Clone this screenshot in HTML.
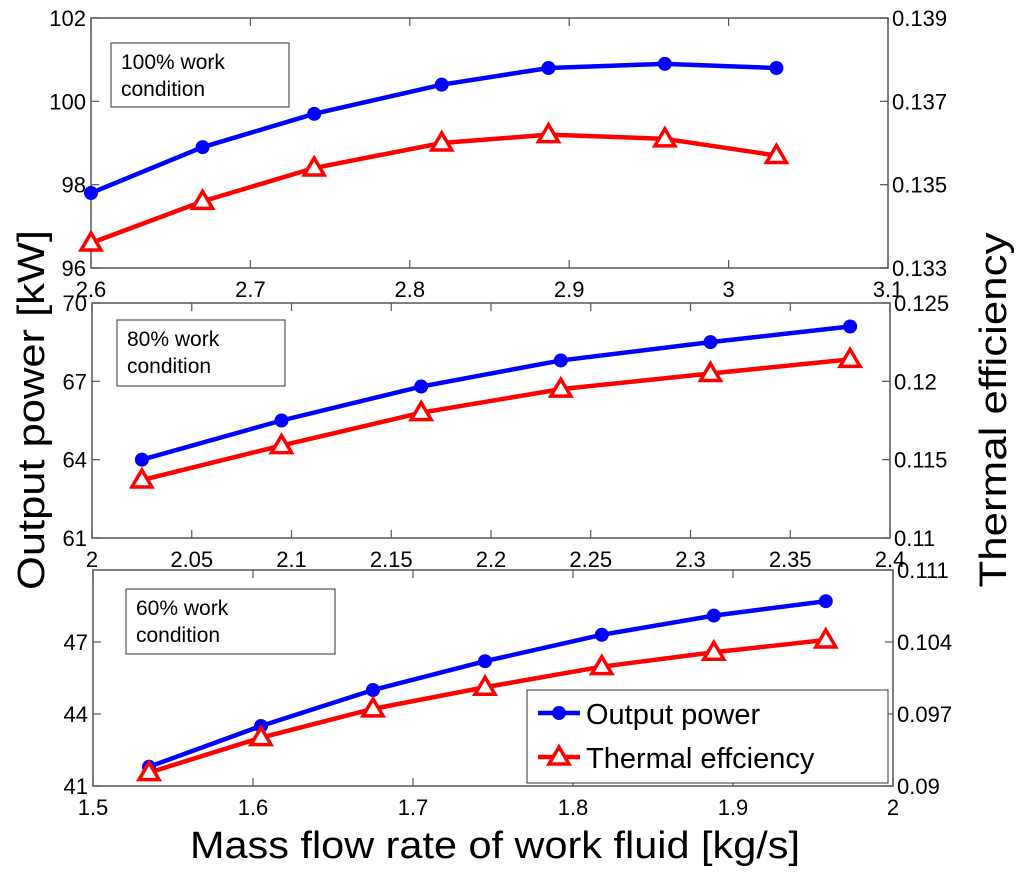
<!DOCTYPE html>
<html><head><meta charset="utf-8"><style>
html,body{margin:0;padding:0;background:#fff;}
svg text{font-family:"Liberation Sans",Arial,sans-serif;fill:#000;}
</style></head><body>
<svg id="c" width="1024" height="873" viewBox="0 0 1024 873" xmlns="http://www.w3.org/2000/svg"></svg>
<script>
// Panel 1 (100%)
const p1X = [2.6, 2.67, 2.74, 2.82, 2.887, 2.96, 3.03];
const p1Power = [97.8, 98.9, 99.7, 100.4, 100.8, 100.9, 100.8];
const p1Eff = [0.1336, 0.1346, 0.1354, 0.1360, 0.1362, 0.1361, 0.1357];
const p1XTicks = [2.6, 2.7, 2.8, 2.9, 3, 3.1];
const p1LTicks = [96, 98, 100, 102];
const p1RTicks = [0.133, 0.135, 0.137, 0.139];
// Panel 2 (80%)
const p2X = [2.025, 2.095, 2.165, 2.235, 2.31, 2.38];
const p2Power = [64.0, 65.5, 66.8, 67.8, 68.5, 69.1];
const p2Eff = [0.1137, 0.1159, 0.1180, 0.1195, 0.1205, 0.1214];
const p2XTicks = [2, 2.05, 2.1, 2.15, 2.2, 2.25, 2.3, 2.35, 2.4];
const p2LTicks = [61, 64, 67, 70];
const p2RTicks = [0.11, 0.115, 0.12, 0.125];
// Panel 3 (60%)
const p3X = [1.535, 1.605, 1.675, 1.745, 1.818, 1.888, 1.958];
const p3Power = [41.8, 43.5, 45.0, 46.2, 47.3, 48.1, 48.7];
const p3Eff = [0.0913, 0.0947, 0.0975, 0.0996, 0.1016, 0.1030, 0.1042];
const p3XTicks = [1.5, 1.6, 1.7, 1.8, 1.9, 2];
const p3LTicks = [41, 44, 47];
const p3RTicks = [0.09, 0.097, 0.104, 0.111];

const NS = "http://www.w3.org/2000/svg";
const svg = document.getElementById('c');
function mk(tag, attrs, parent){
  const e = document.createElementNS(NS, tag);
  for (const k in attrs) e.setAttribute(k, attrs[k]);
  (parent||svg).appendChild(e);
  return e;
}
function fmt(v){ return String(+v.toFixed(4)); }

const panels = [
  {id:'p100', x:p1X, pw:p1Power, ef:p1Eff, xt:p1XTicks, lt:p1LTicks, rt:p1RTicks,
   px:[91,888], py:[18,268], xd:[2.6,3.1], ld:[96,102], rd:[0.133,0.139],
   label:['100% work','condition'], box:[111,43,178,64]},
  {id:'p80', x:p2X, pw:p2Power, ef:p2Eff, xt:p2XTicks, lt:p2LTicks, rt:p2RTicks,
   px:[92,890], py:[303,538], xd:[2,2.4], ld:[61,70], rd:[0.11,0.125],
   label:['80% work','condition'], box:[117,320,168,66]},
  {id:'p60', x:p3X, pw:p3Power, ef:p3Eff, xt:p3XTicks, lt:p3LTicks, rt:p3RTicks,
   px:[93,893], py:[570,786], xd:[1.5,2], ld:[41,50], rd:[0.09,0.111],
   label:['60% work','condition'], box:[126,589,209,65]}
];

panels.forEach(p=>{
  const g = mk('g', {});
  
  
  const sx = v => p.px[0] + (v - p.xd[0])/(p.xd[1]-p.xd[0])*(p.px[1]-p.px[0]);
  const sl = v => p.py[1] - (v - p.ld[0])/(p.ld[1]-p.ld[0])*(p.py[1]-p.py[0]);
  const sr = v => p.py[1] - (v - p.rd[0])/(p.rd[1]-p.rd[0])*(p.py[1]-p.py[0]);
  const fr = mk('rect', {x:p.px[0], y:p.py[0], width:p.px[1]-p.px[0], height:p.py[1]-p.py[0], fill:'#fff', stroke:'#555', 'stroke-width':1.5}, g);
  
  
  p.xt.forEach(t=>{
    const x = sx(t);
    mk('line', {x1:x, x2:x, y1:p.py[1], y2:p.py[1]-8, stroke:'#555','stroke-width':1.2}, g);
    mk('line', {x1:x, x2:x, y1:p.py[0], y2:p.py[0]+8, stroke:'#555','stroke-width':1.2}, g);
    const tx = mk('text', {x:x, y:p.py[1]+29, 'font-size':22, 'text-anchor':'middle'}, g);
    tx.textContent = fmt(t);
    
    
  });
  p.lt.forEach(t=>{
    const y = sl(t);
    mk('line', {x1:p.px[0], x2:p.px[0]+8, y1:y, y2:y, stroke:'#555','stroke-width':1.2}, g);
    const tx = mk('text', {x:p.px[0]-5, y:y+8, 'font-size':22, 'text-anchor':'end'}, g);
    tx.textContent = fmt(t);
    
    
  });
  p.rt.forEach(t=>{
    const y = sr(t);
    mk('line', {x1:p.px[1], x2:p.px[1]-8, y1:y, y2:y, stroke:'#555','stroke-width':1.2}, g);
    const tx = mk('text', {x:p.px[1]+4, y:y+8, 'font-size':22}, g);
    tx.textContent = fmt(t);
    
    
  });
  const b = p.box;
  const br = mk('rect', {x:b[0], y:b[1], width:b[2], height:b[3], fill:'#fff', stroke:'#333','stroke-width':1}, g);
  
  
  p.label.forEach((s,i)=>{
    const tx = mk('text', {x:b[0]+10, y:b[1]+26+i*27, 'font-size':21}, g);
    tx.textContent = s;
    
    
  });
  const bp = p.x.map((v,i)=>sx(v)+','+sl(p.pw[i])).join(' ');
  const bl = mk('polyline', {points:bp, fill:'none', stroke:'#0000ff','stroke-width':4.5}, g);
  
  
  const rp = p.x.map((v,i)=>sx(v)+','+sr(p.ef[i])).join(' ');
  const rl = mk('polyline', {points:rp, fill:'none', stroke:'#ff0000','stroke-width':4.5}, g);
  
  
  p.x.forEach((v,i)=>{
    const c = mk('circle', {cx:sx(v), cy:sl(p.pw[i]), r:7, fill:'#0000ff'}, g);
    
    
  });
  p.x.forEach((v,i)=>{
    const x = sx(v), y = sr(p.ef[i]);
    const t = mk('polygon', {points:`${x},${y-10} ${x-10},${y+7} ${x+10},${y+7}`, fill:'#fff', stroke:'#ff0000','stroke-width':3.5}, g);
    
    
  });
});

// legend
const lg = mk('g', {});


mk('rect', {x:527, y:690, width:361, height:93, fill:'#fff', stroke:'#333','stroke-width':1}, lg);
mk('line', {x1:538, x2:580, y1:713, y2:713, stroke:'#0000ff','stroke-width':4.5}, lg);
mk('circle', {cx:559, cy:713, r:7, fill:'#0000ff'}, lg);
mk('line', {x1:538, x2:580, y1:757, y2:757, stroke:'#ff0000','stroke-width':4.5}, lg);
mk('polygon', {points:'559,747 549,764 569,764', fill:'#fff', stroke:'#ff0000','stroke-width':3.5}, lg);
const l1 = mk('text', {x:586, y:724, 'font-size':29}, lg);
l1.textContent = 'Output power';


const l2 = mk('text', {x:586, y:768, 'font-size':29}, lg);
l2.textContent = 'Thermal effciency';



const yt = mk('text', {x:0, y:0, 'font-size':38, 'text-anchor':'middle', textLength:360, lengthAdjust:'spacingAndGlyphs', transform:'translate(44,410) rotate(-90)'});
yt.textContent = 'Output power [kW]';


const yr = mk('text', {x:0, y:0, 'font-size':38, 'text-anchor':'middle', textLength:355, lengthAdjust:'spacingAndGlyphs', transform:'translate(1006,410) rotate(-90)'});
yr.textContent = 'Thermal efficiency';


const xt = mk('text', {x:495, y:858, 'font-size':38, 'text-anchor':'middle', textLength:610, lengthAdjust:'spacingAndGlyphs'});
xt.textContent = 'Mass flow rate of work fluid [kg/s]';


</script>
</body></html>
